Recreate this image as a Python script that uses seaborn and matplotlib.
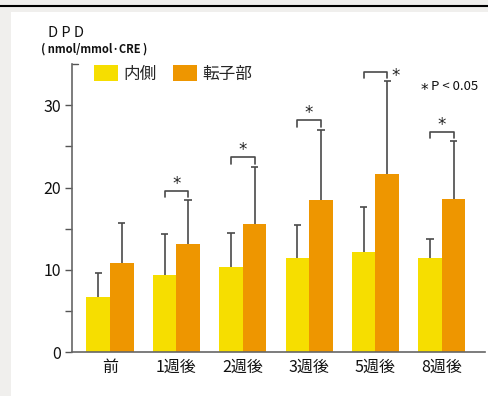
import matplotlib
matplotlib.use("Agg")
import matplotlib.pyplot as plt
import matplotlib.patches as mpatches
import seaborn as sns
import pandas as pd
import numpy as np

# ---- data ----
categories = ["前", "1週後", "2週後", "3週後", "5週後", "8週後"]
series_names = ["内側", "転子部"]
medial = [6.75, 9.4, 10.3, 11.45, 12.2, 11.45]
medial_err = [2.9, 4.95, 4.2, 3.95, 5.4, 2.35]
trochanter = [10.85, 13.15, 15.6, 18.5, 21.65, 18.65]
trochanter_err = [4.9, 5.3, 6.9, 8.5, 11.25, 7.0]
significant = ["1週後", "2週後", "3週後", "5週後", "8週後"]
star_right = ["5週後"]
yticks = [0, 10, 20, 30]

colors = ["#F6DE00", "#EE9600"]
err_color = "#4a4a4a"
JP = ["Noto Sans CJK JP", "DejaVu Sans"]

sns.set_theme(style="white")
plt.rcParams["font.family"] = JP

W, H = 489, 396
fig = plt.figure(figsize=(W / 100, H / 100), dpi=100)
fig.patch.set_facecolor("white")

# page frame decoration
bg = "#F0EFED"
fig.patches.append(mpatches.Rectangle((0, 1 - 12 / H), 1, 12 / H, transform=fig.transFigure,
                                      facecolor=bg, edgecolor="none", zorder=0))
fig.patches.append(mpatches.Rectangle((0, 0), 11 / W, 1, transform=fig.transFigure,
                                      facecolor=bg, edgecolor="none", zorder=0))
fig.lines.append(plt.Line2D([0, 1], [1 - 5.5 / H, 1 - 5.5 / H], transform=fig.transFigure,
                            color="black", lw=1.5))

ax = fig.add_axes([72 / W, 1 - 352.3 / H, (485 - 72) / W, (352.3 - 64) / H])
ax.set_facecolor("none")

df = pd.DataFrame({
    "cat": categories * 2,
    "grp": [series_names[0]] * len(categories) + [series_names[1]] * len(categories),
    "val": medial + trochanter,
})
sns.barplot(data=df, x="cat", y="val", hue="grp", order=categories, hue_order=series_names,
            palette=colors, width=0.71, errorbar=None, saturation=1, ax=ax, legend=False,
            edgecolor="none", linewidth=0)

# error bars from the bar patches (upper side only)
bars = [p for p in ax.patches if isinstance(p, mpatches.Rectangle) and p.get_width() > 0]
bars = sorted(bars, key=lambda p: p.get_x())
n = len(categories)
centers_m = []
centers_t = []
for i in range(n):
    pm, pt = bars[2 * i], bars[2 * i + 1]
    centers_m.append(pm.get_x() + pm.get_width() / 2)
    centers_t.append(pt.get_x() + pt.get_width() / 2)

cap_half = 0.055
for xs, vals, errs in [(centers_m, medial, medial_err), (centers_t, trochanter, trochanter_err)]:
    xs = np.array(xs)
    tops = np.array(vals) + np.array(errs)
    ax.vlines(xs, vals, tops, color=err_color, lw=1.2, zorder=1)
    ax.hlines(tops, xs - cap_half, xs + cap_half, color=err_color, lw=1.2, zorder=1)

# significance brackets
STAR = ["DejaVu Sans"]
for cat in significant:
    i = categories.index(cat)
    top = trochanter[i] + trochanter_err[i]
    y0 = top + 0.38
    y1 = y0 + 0.77
    x0, x1 = centers_m[i], centers_t[i]
    ax.plot([x0, x0, x1, x1], [y0, y1, y1, y0], color=err_color, lw=1.2, clip_on=False)
    if cat in star_right:
        ax.text(x1 + 0.07, y1 - 0.55, "*", ha="left", va="center", fontsize=12,
                color="#222222", family=STAR)
    else:
        ax.text((x0 + x1) / 2, y1 + 0.85, "*", ha="center", va="center", fontsize=12,
                color="#222222", family=STAR)

ax.set_xlim(-0.572, 5.65)
ax.set_ylim(0, 35)
ax.set_yticks(yticks)
ax.set_yticks([5, 15, 25], minor=True)
ax.set_yticklabels([str(t) for t in yticks], fontsize=11.5, color="#111111")
ax.set_xticklabels(categories, fontsize=11.5, color="#111111")
ax.tick_params(axis="y", which="both", direction="out", length=5, width=1, color="#555555",
               left=True, pad=3)
ax.tick_params(axis="x", length=0, pad=5)
ax.axhline(35, xmin=0, xmax=0.015, color="#555555", lw=1, clip_on=False)
ax.set_xlabel("")
ax.set_ylabel("")
for s in ["top", "right"]:
    ax.spines[s].set_visible(False)
for s in ["left", "bottom"]:
    ax.spines[s].set_color("#666666")
    ax.spines[s].set_linewidth(1.2)

# legend
handles = [mpatches.Patch(facecolor=c, edgecolor="none", label=l) for c, l in zip(colors, series_names)]
leg = ax.legend(handles=handles, ncol=2, loc="upper left", bbox_to_anchor=(0.036, 1.02),
                frameon=False, fontsize=12, handlelength=1.45, handleheight=1.1,
                handletextpad=0.35, columnspacing=0.95, borderaxespad=0)

# header texts
fig.text(48 / W, 1 - 33 / H, "D P D", fontsize=10.5, ha="left", va="center", color="#111111")
fig.text(41 / W, 1 - 49 / H, "( nmol/mmol·CRE )", fontsize=8, ha="left", va="center",
         color="#111111", fontweight="bold")
fig.text(421 / W, 1 - 90 / H, "*", fontsize=11, ha="left", va="center", color="#111111",
         family=STAR)
fig.text(431 / W, 1 - 86 / H, "P < 0.05", fontsize=9.5, ha="left", va="center", color="#111111")

fig.savefig("out.png", dpi=100)
